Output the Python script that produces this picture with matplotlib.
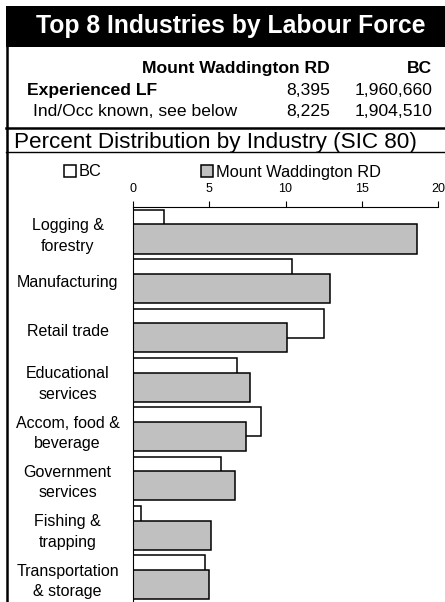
import numpy as np
import matplotlib.pyplot as plt
from matplotlib.patches import Rectangle
from matplotlib.lines import Line2D

plt.rcParams['font.family'] = ['Liberation Sans', 'DejaVu Sans']

industries = ['Logging &\nforestry', 'Manufacturing', 'Retail trade', 'Educational\nservices',
              'Accom, food &\nbeverage', 'Government\nservices', 'Fishing &\ntrapping',
              'Transportation\n& storage']
bc = [2.0, 10.4, 12.5, 6.8, 8.4, 5.8, 0.5, 4.7]
mw = [18.6, 12.9, 10.1, 7.7, 7.4, 6.7, 5.1, 5.0]
region = 'Mount Waddington RD'
exp_lf = ['8,395', '1,960,660']
known = ['8,225', '1,904,510']

W, H = 445, 602
fig = plt.figure(figsize=(W / 100, H / 100), dpi=100)

def fx(px):
    return px / W

def fy(py):
    return 1 - py / H

# header block
fig.add_artist(Rectangle((fx(6), fy(46.5)), fx(445) - fx(6), fy(6) - fy(46.5),
                         transform=fig.transFigure, facecolor='black', edgecolor='none'))
fig.text(fx(231), fy(33.5), 'Top 8 Industries by Labour Force', color='white',
         fontsize=17.8, fontweight='bold', ha='center', va='baseline')
fig.add_artist(Line2D([fx(6.5), fx(6.5)], [fy(46), 0], transform=fig.transFigure,
                      color='black', lw=1.8))
hs = 12.6
fig.text(fx(330), fy(73), region, fontsize=hs, fontweight='bold', ha='right', va='baseline')
fig.text(fx(432), fy(73), 'BC', fontsize=hs, fontweight='bold', ha='right', va='baseline')
fig.text(fx(27), fy(95), 'Experienced LF', fontsize=hs, fontweight='bold', ha='left', va='baseline')
fig.text(fx(330), fy(95), exp_lf[0], fontsize=hs, ha='right', va='baseline')
fig.text(fx(432), fy(95), exp_lf[1], fontsize=hs, ha='right', va='baseline')
fig.text(fx(33), fy(116.5), 'Ind/Occ known, see below', fontsize=hs, ha='left', va='baseline')
fig.text(fx(330), fy(116.5), known[0], fontsize=hs, ha='right', va='baseline')
fig.text(fx(432), fy(116.5), known[1], fontsize=hs, ha='right', va='baseline')
fig.add_artist(Line2D([fx(6), 1], [fy(127.5), fy(127.5)], transform=fig.transFigure,
                      color='black', lw=1.8))
fig.text(fx(215), fy(148), 'Percent Distribution by Industry (SIC 80)', fontsize=16.2,
         ha='center', va='baseline')
fig.add_artist(Line2D([fx(6), 1], [fy(151.8), fy(151.8)], transform=fig.transFigure,
                      color='black', lw=1.0))

# chart
ax = fig.add_axes([fx(133), 0, fx(438) - fx(133), fy(207)])
y = np.arange(len(industries))
h = 0.59
off = 0.147
b1 = ax.barh(y - off, bc, height=h, color='white', edgecolor='black', linewidth=1.1, label='BC')
b2 = ax.barh(y + off, mw, height=h, color='#C0C0C0', edgecolor='black', linewidth=1.1,
             label=region)
ax.set_xlim(0, 20)
ax.set_ylim(len(industries) - 0.5, -0.5)
ax.set_xticks([0, 5, 10, 15, 20])
ax.xaxis.tick_top()
ax.tick_params(axis='x', direction='out', length=4, width=0.8, labelsize=9, pad=5)
ax.set_yticks(y)
ax.set_yticklabels(industries, fontsize=11.5, ha='center', linespacing=1.45)
ax.tick_params(axis='y', length=0, pad=47)
ax.spines['right'].set_visible(False)
ax.spines['bottom'].set_visible(False)
ax.spines['top'].set_linewidth(0.8)
ax.spines['left'].set_linewidth(0.8)

lkw = dict(loc='center left', frameon=False, fontsize=11.8, handlelength=0.75,
           handleheight=0.75, handletextpad=0.15, borderpad=0, borderaxespad=0)
fig.legend(handles=[b1], labels=['BC'], bbox_to_anchor=(fx(64), fy(172)), **lkw)
fig.legend(handles=[b2], labels=[region], bbox_to_anchor=(fx(201), fy(172)), **lkw)

fig.savefig('out.png', dpi=100)
